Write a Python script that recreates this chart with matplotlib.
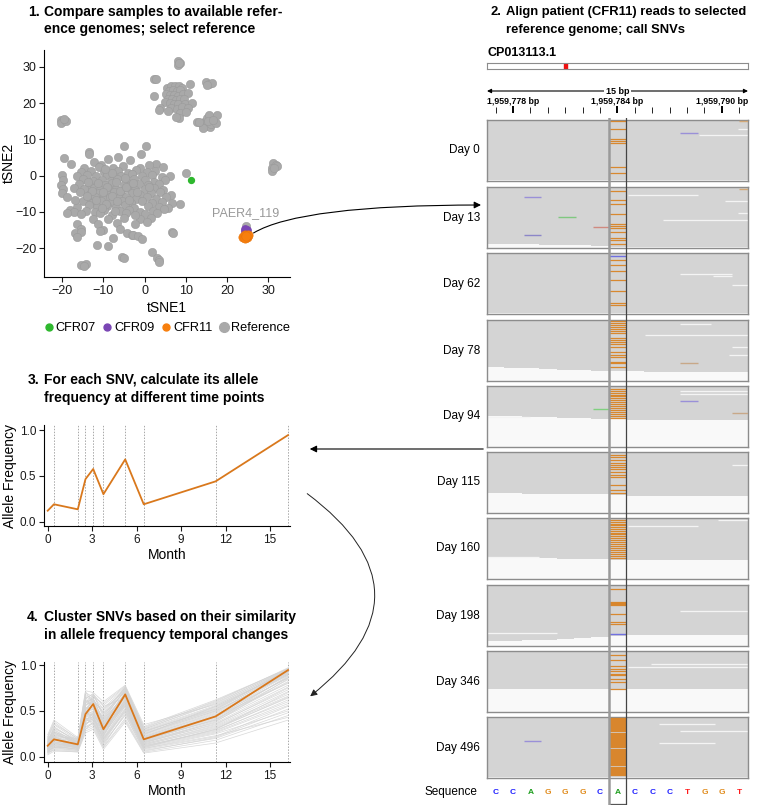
import matplotlib
matplotlib.use('Agg')
import matplotlib.pyplot as plt
from matplotlib.patches import FancyArrowPatch, ConnectionPatch
from matplotlib.lines import Line2D

plt.rcParams['font.family'] = ['Liberation Sans', 'DejaVu Sans']

W, H = 760, 806

# ---------------- panel 1: tSNE of genomes ----------------
ref_points = [
    # northern clusters
    (8.2, 31.6), (8.6, 31.0), (8.0, 30.4), (8.4, 30.9),
    (2.3, 26.6), (2.9, 26.7),
    (15.0, 25.9), (15.6, 25.3), (16.4, 25.4), (15.2, 25.0),
    (5.5, 24.2), (6.5, 24.6), (7.3, 24.8), (8.3, 24.6), (9.1, 24.0), (11.0, 25.2),
    (6.0, 23.3), (7.0, 23.6), (7.8, 23.2), (8.6, 23.5), (5.2, 22.5), (6.2, 22.2),
    (7.2, 22.3), (8.1, 22.0), (9.3, 22.4), (10.6, 22.8), (5.7, 21.2), (6.7, 21.0),
    (7.6, 20.8), (8.6, 21.2), (9.6, 21.0), (4.9, 20.3), (6.1, 19.9), (7.1, 19.6),
    (8.2, 19.8), (9.8, 19.7), (11.4, 20.0), (6.5, 18.6), (7.8, 18.4), (9.2, 18.8),
    (10.5, 18.6), (5.6, 17.8), (8.5, 17.3), (10.0, 17.4), (3.8, 18.6), (3.4, 18.2),
    (2.3, 21.8), (8.3, 15.9), (7.6, 16.2),
    (12.7, 14.7), (13.6, 14.4), (14.5, 14.9), (15.2, 15.8), (16.0, 16.1), (15.6, 16.6),
    (17.6, 16.7), (14.8, 13.8), (15.8, 13.4), (16.2, 14.2), (17.4, 14.5), (14.2, 13.2),
    (15.5, 15.0), (16.7, 15.2), (13.1, 14.9),
    (-20.3, 15.3), (-19.7, 15.0), (-20.2, 14.6), (-19.0, 15.1), (-19.6, 15.5),
    (31.2, 3.4), (31.8, 3.0), (32.1, 2.6), (30.9, 2.0), (31.0, 1.4), (31.5, 2.2),
    (10.0, 0.6), (24.6, -13.9),
    # main cluster
    (-12.2, 3.7), (-8.8, 4.5), (-3.5, 4.3), (2.8, 3.1), (-10.5, 3.0), (-6.4, 5.2),
    (-4.9, 8.2), (0.4, 8.3), (-0.9, 5.9), (-13.4, 6.6), (-13.4, 5.9), (-19.6, 4.9),
    (-17.8, 3.3), (-14.6, 2.1), (-11.0, 2.5), (-7.6, 2.0), (-5.2, 2.6), (-1.0, 2.2),
    (1.2, 2.8), (4.5, 2.5), (-15.4, 1.1), (-13.0, 1.4), (-9.8, 0.9), (-6.4, 1.3),
    (-4.0, 0.8), (-2.0, 1.5), (0.5, 1.0), (2.5, 1.2), (-20.0, 0.1), (-16.5, -0.2),
    (-14.0, 0.3), (-11.8, -0.1), (-9.0, 0.2), (-7.2, -0.3), (-5.6, 0.0), (-3.0, 0.4),
    (-0.6, -0.2), (1.8, 0.1), (4.3, -0.4), (6.1, -0.1), (-19.8, -1.3), (-15.0, -1.0),
    (-12.6, -1.5), (-10.4, -1.1), (-8.2, -1.4), (-6.6, -0.9), (-4.4, -1.6), (-2.5, -1.0),
    (0.0, -1.3), (2.2, -1.7), (5.0, -1.2), (-20.2, -2.5), (-16.0, -2.2), (-13.6, -2.7),
    (-11.4, -2.3), (-9.6, -2.6), (-7.8, -2.1), (-5.0, -2.5), (-3.6, -2.9), (-1.4, -2.3),
    (0.9, -2.6), (3.4, -2.2), (-19.7, -3.7), (-17.0, -3.4), (-14.8, -3.8), (-12.2, -3.5),
    (-10.8, -3.9), (-8.8, -3.4), (-6.9, -3.8), (-4.2, -3.5), (-2.2, -3.9), (0.2, -3.6),
    (2.4, -3.3), (4.6, -4.0), (-20.1, -4.9), (-15.6, -4.6), (-13.2, -5.0), (-11.0, -4.7),
    (-9.2, -5.1), (-7.4, -4.6), (-5.6, -5.0), (-3.0, -4.7), (-1.0, -5.2), (1.5, -4.8),
    (3.8, -4.6), (6.4, -5.3), (-18.8, -5.8), (-14.0, -6.1), (-12.0, -5.9), (-10.2, -6.3),
    (-8.4, -5.8), (-6.2, -6.2), (-4.6, -5.9), (-2.0, -6.4), (0.6, -6.0), (2.8, -6.3),
    (5.2, -6.0), (-15.0, -7.1), (-12.8, -7.4), (-10.6, -7.0), (-8.0, -7.3), (-5.4, -7.1),
    (-3.4, -7.5), (-0.6, -7.0), (1.8, -7.4), (4.2, -7.2), (6.6, -7.6), (8.6, -7.8),
    (-16.5, -8.5), (-13.5, -8.2), (-11.5, -8.7), (-9.0, -8.3), (-7.0, -8.6), (-4.8, -8.2),
    (-2.6, -8.8), (0.8, -8.4), (3.6, -8.6), (5.6, -8.9), (-18.0, -9.4), (-17.0, -9.9),
    (-14.2, -9.6), (-12.0, -9.9), (-9.8, -9.5), (-6.0, -9.8), (-3.8, -9.4), (-1.2, -9.9),
    (2.0, -9.6), (4.8, -9.3), (-18.8, -10.4), (-15.4, -10.6), (-10.8, -10.3), (-7.8, -10.8),
    (-4.5, -10.4), (0.2, -10.6), (3.0, -10.2), (-12.6, -11.8), (-8.8, -12.0), (-5.0, -11.6),
    (-1.0, -11.9), (1.6, -11.7), (-16.4, -13.2), (-11.2, -13.4), (-6.6, -13.0), (-2.2, -13.3),
    (0.5, -12.8), (-15.4, -14.8), (-10.0, -15.0), (-6.0, -14.6), (-4.2, -15.9), (-3.0, -16.2),
    (-16.9, -15.8), (-15.3, -15.4), (-10.8, -15.2), (-2.7, -16.3), (-1.5, -16.6), (6.6, -15.4),
    (-16.5, -16.9), (-7.7, -17.2), (-0.7, -17.5), (6.9, -15.7), (-11.6, -19.1), (-8.8, -19.3),
    (1.8, -20.9), (-5.5, -22.5), (-5.1, -22.7), (3.0, -22.7), (3.6, -23.2), (3.5, -23.8),
    (-15.3, -24.6), (-14.2, -24.3), (-14.6, -25.0),
    (-11.2, -2.0), (-9.0, -3.0), (-7.0, -1.8), (-6.0, -4.2), (-8.0, -5.5), (-10.0, -4.4),
    (-12.8, -4.2), (-4.6, -3.0), (-3.8, -6.8), (-9.4, -7.9), (-11.8, -6.8), (-6.8, -6.9),
    (-13.8, -1.8), (-2.8, -2.1), (-7.9, 0.8), (-9.6, 1.8), (-4.8, -0.6), (-1.8, -4.4),
    (-13.9, -5.6), (-7.2, -9.6), (-2.4, -10.8), (1.0, -3.0), (-16.8, -6.6), (-10.4, -8.8),
]
cfr07_points = [(11.2, -1.1)]
cfr09_points = [(24.4, -14.6), (24.8, -15.0), (24.6, -15.5), (24.3, -15.2)]
cfr11_points = [(23.9, -16.9), (24.3, -16.4), (24.8, -16.8), (25.0, -16.3), (24.4, -17.2), (24.6, -16.6)]
tsne_ticks_x = [-20, -10, 0, 10, 20, 30]
tsne_ticks_y = [-20, -10, 0, 10, 20, 30]

# ---------------- panels 3/4: allele frequency ----------------
months = [0, 0.42, 2.03, 2.55, 3.07, 3.76, 5.23, 6.48, 11.33, 16.22]
snv_freq = [0.12, 0.19, 0.135, 0.465, 0.575, 0.30, 0.68, 0.19, 0.44, 0.945]
cluster_freqs = [
    [0.10, 0.22, 0.12, 0.52, 0.60, 0.35, 0.70, 0.22, 0.48, 0.92],
    [0.08, 0.15, 0.10, 0.40, 0.48, 0.28, 0.62, 0.15, 0.38, 0.85],
    [0.15, 0.25, 0.16, 0.60, 0.55, 0.40, 0.74, 0.28, 0.52, 0.95],
    [0.05, 0.12, 0.08, 0.35, 0.42, 0.20, 0.55, 0.10, 0.30, 0.70],
    [0.18, 0.30, 0.14, 0.68, 0.62, 0.48, 0.75, 0.30, 0.58, 0.96],
    [0.12, 0.18, 0.15, 0.45, 0.50, 0.25, 0.60, 0.18, 0.40, 0.88],
    [0.06, 0.10, 0.11, 0.30, 0.38, 0.15, 0.45, 0.08, 0.22, 0.55],
    [0.20, 0.35, 0.18, 0.55, 0.66, 0.52, 0.72, 0.25, 0.50, 0.90],
    [0.09, 0.20, 0.09, 0.48, 0.45, 0.32, 0.66, 0.20, 0.44, 0.80],
    [0.14, 0.16, 0.13, 0.42, 0.58, 0.22, 0.68, 0.16, 0.35, 0.75],
    [0.03, 0.08, 0.06, 0.28, 0.32, 0.10, 0.40, 0.05, 0.18, 0.45],
    [0.11, 0.24, 0.17, 0.58, 0.64, 0.38, 0.70, 0.24, 0.55, 0.93],
    [0.07, 0.14, 0.12, 0.38, 0.44, 0.18, 0.52, 0.12, 0.28, 0.62],
    [0.16, 0.28, 0.12, 0.65, 0.52, 0.44, 0.76, 0.32, 0.60, 0.97],
    [0.10, 0.12, 0.10, 0.50, 0.40, 0.30, 0.58, 0.14, 0.33, 0.68],
    [0.13, 0.32, 0.16, 0.46, 0.68, 0.55, 0.64, 0.21, 0.46, 0.86],
    [0.04, 0.09, 0.07, 0.32, 0.36, 0.12, 0.48, 0.09, 0.25, 0.50],
    [0.19, 0.22, 0.20, 0.62, 0.56, 0.42, 0.73, 0.27, 0.53, 0.94],
    [0.08, 0.18, 0.09, 0.44, 0.47, 0.26, 0.63, 0.17, 0.41, 0.82],
    [0.12, 0.26, 0.14, 0.56, 0.61, 0.36, 0.69, 0.23, 0.49, 0.91],
    [0.06, 0.11, 0.08, 0.36, 0.40, 0.16, 0.50, 0.11, 0.27, 0.58],
    [0.22, 0.38, 0.19, 0.70, 0.65, 0.58, 0.77, 0.33, 0.62, 0.96],
    [0.09, 0.13, 0.11, 0.41, 0.43, 0.21, 0.56, 0.13, 0.31, 0.64],
    [0.15, 0.20, 0.13, 0.54, 0.53, 0.34, 0.67, 0.19, 0.43, 0.87],
    [0.05, 0.07, 0.05, 0.26, 0.30, 0.08, 0.38, 0.04, 0.15, 0.40],
    [0.17, 0.29, 0.15, 0.60, 0.63, 0.46, 0.71, 0.26, 0.51, 0.93],
    [0.10, 0.17, 0.10, 0.47, 0.49, 0.29, 0.61, 0.16, 0.39, 0.78],
    [0.13, 0.21, 0.16, 0.51, 0.57, 0.33, 0.65, 0.20, 0.45, 0.89],
    [0.07, 0.10, 0.09, 0.33, 0.37, 0.14, 0.46, 0.07, 0.20, 0.48],
    [0.14, 0.23, 0.12, 0.57, 0.59, 0.37, 0.68, 0.22, 0.47, 0.90],
    [0.11, 0.19, 0.14, 0.49, 0.54, 0.31, 0.64, 0.18, 0.42, 0.84],
    [0.02, 0.06, 0.06, 0.30, 0.34, 0.11, 0.42, 0.06, 0.21, 0.52],
    [0.20, 0.27, 0.17, 0.66, 0.60, 0.50, 0.74, 0.29, 0.56, 0.95],
    [0.09, 0.15, 0.12, 0.43, 0.46, 0.23, 0.59, 0.15, 0.36, 0.73],
    [0.12, 0.22, 0.11, 0.53, 0.51, 0.35, 0.66, 0.21, 0.44, 0.86],
    [0.06, 0.13, 0.10, 0.39, 0.41, 0.19, 0.53, 0.12, 0.29, 0.60],
    [0.16, 0.31, 0.18, 0.59, 0.67, 0.47, 0.71, 0.27, 0.54, 0.92],
    [0.10, 0.16, 0.13, 0.45, 0.48, 0.27, 0.60, 0.17, 0.37, 0.76],
    [0.24, 0.40, 0.21, 0.72, 0.70, 0.60, 0.78, 0.35, 0.57, 0.94],
    [0.08, 0.12, 0.08, 0.37, 0.39, 0.17, 0.51, 0.10, 0.26, 0.56],
    [0.13, 0.26, 0.15, 0.63, 0.69, 0.43, 0.72, 0.25, 0.52, 0.91],
    [0.07, 0.21, 0.10, 0.43, 0.35, 0.24, 0.57, 0.14, 0.34, 0.71],
    [0.17, 0.33, 0.16, 0.49, 0.62, 0.41, 0.67, 0.30, 0.59, 0.95],
    [0.11, 0.14, 0.12, 0.34, 0.45, 0.20, 0.49, 0.09, 0.23, 0.43],
    [0.14, 0.27, 0.18, 0.71, 0.58, 0.53, 0.75, 0.31, 0.61, 0.96],
    [0.05, 0.10, 0.07, 0.41, 0.44, 0.24, 0.58, 0.13, 0.32, 0.66],
    [0.19, 0.24, 0.14, 0.52, 0.63, 0.39, 0.69, 0.24, 0.50, 0.89],
    [0.09, 0.19, 0.11, 0.47, 0.52, 0.28, 0.62, 0.19, 0.40, 0.81],
    [0.12, 0.15, 0.09, 0.39, 0.47, 0.33, 0.55, 0.11, 0.30, 0.65],
    [0.21, 0.36, 0.20, 0.64, 0.68, 0.56, 0.76, 0.28, 0.55, 0.93],
]
month_ticks = [0, 3, 6, 9, 12, 15]
freq_ticks = [0.0, 0.5, 1.0]

# ---------------- panel 2: read pileups ----------------
chrom_name = 'CP013113.1'
chrom_len = 6_500_000
snv_pos = 1_959_784
bp_positions = list(range(1_959_777, 1_959_792))
ref_sequence = ['C', 'C', 'A', 'G', 'G', 'G', 'C', 'A', 'C', 'C', 'C', 'T', 'G', 'G', 'T']
ruler_labels = [1_959_778, 1_959_784, 1_959_790]
days = [0, 13, 62, 78, 94, 115, 160, 198, 346, 496]
# read depth (rows) at each of the 15 positions, per day
coverage = [
    [60] * 15,
    [57, 57, 57, 58, 58, 58, 59, 60, 60, 60, 60, 60, 60, 60, 60],
    [60] * 15,
    [47, 48, 48, 49, 50, 50, 51, 51, 51, 52, 52, 52, 52, 52, 52],
    [30, 30, 31, 31, 32, 32, 33, 33, 34, 34, 34, 34, 34, 34, 34],
    [41, 41, 42, 42, 42, 42, 42, 43, 44, 44, 44, 44, 44, 44, 44],
    [40, 40, 40, 40, 41, 41, 41, 42, 42, 42, 42, 42, 42, 42, 42],
    [56, 56, 55, 55, 54, 53, 52, 51, 50, 50, 50, 50, 50, 50, 50],
    [38] * 15,
    [60] * 15,
]
# rows carrying the alternate allele at the SNV
alt_rows = [
    [1, 9, 19, 21, 23, 47, 53],
    [4, 13, 17, 27, 37, 39, 41, 45, 51, 53, 57],
    [7, 12, 18, 27, 38, 50, 52],
    [1, 3, 5, 7, 9, 11, 13, 18, 20, 22, 24, 27, 32, 35, 37, 42, 43, 47],
    [3, 5, 7, 9, 10, 12, 14, 16, 18, 20, 22, 24, 26, 28, 30, 32],
    [3, 5, 8, 11, 13, 15, 17, 20, 23, 25, 33, 38, 41],
    [2, 4, 6, 7, 9, 11, 13, 15, 16, 18, 20, 22, 24, 26, 28, 30, 32, 34, 36, 38, 40],
    [4, 17, 18, 19, 20, 29, 37, 39],
    [4, 9, 15, 18, 20, 23, 24, 28, 31, 38],
    [1, 2, 3, 4, 5, 6, 7, 8, 9, 10, 11, 12, 13, 14, 16, 17, 18, 19, 20, 21, 22, 23, 24,
     25, 26, 27, 28, 29, 30, 32, 33, 34, 35, 36, 37, 38, 39, 40, 41, 42, 43, 44, 45, 46,
     47, 48, 50, 51, 52, 53, 54, 55, 56, 57, 58],
]
# other mismatches: (track, row, start, end, colour)
mismatches = [
    (0, 13, 1_959_787.6, 1_959_788.6, '#9a90d8'),
    (0, 1, 1_959_791.0, 1_959_791.5, '#d2a878'),
    (1, 10, 1_959_778.6, 1_959_779.6, '#9a90d8'),
    (1, 48, 1_959_778.6, 1_959_779.6, '#8c86c8'),
    (1, 30, 1_959_780.6, 1_959_781.6, '#80c880'),
    (1, 40, 1_959_782.6, 1_959_783.5, '#d08a80'),
    (1, 2, 1_959_791.0, 1_959_791.5, '#d2a878'),
    (2, 3, 1_959_783.5, 1_959_784.5, '#7070e0'),
    (3, 43, 1_959_787.6, 1_959_788.6, '#c8a888'),
    (4, 23, 1_959_782.6, 1_959_783.5, '#80d080'),
    (4, 15, 1_959_787.6, 1_959_788.6, '#9a90d8'),
    (4, 27, 1_959_790.6, 1_959_791.5, '#c8a888'),
    (7, 49, 1_959_783.5, 1_959_784.5, '#7070e0'),
    (9, 24, 1_959_778.6, 1_959_779.6, '#9a90d8'),
]
# read ends that leave thin white streaks: (track, row, start, end)
read_gaps = [
    (0, 15, 1_959_788.7, 1_959_791.5), (0, 9, 1_959_790.9, 1_959_791.5),
    (1, 8, 1_959_784.6, 1_959_788.6), (1, 14, 1_959_790.2, 1_959_791.5),
    (1, 33, 1_959_786.6, 1_959_791.5), (1, 26, 1_959_790.9, 1_959_791.5),
    (2, 21, 1_959_787.6, 1_959_790.6), (2, 23, 1_959_789.5, 1_959_790.6),
    (2, 32, 1_959_790.6, 1_959_791.5),
    (3, 4, 1_959_787.6, 1_959_789.4), (3, 15, 1_959_785.6, 1_959_791.5),
    (3, 27, 1_959_790.6, 1_959_791.5), (3, 35, 1_959_790.4, 1_959_791.5),
    (4, 5, 1_959_787.6, 1_959_791.5), (4, 8, 1_959_787.6, 1_959_791.5),
    (4, 31, 1_959_776.5, 1_959_779.0),
    (5, 13, 1_959_790.6, 1_959_791.5),
    (6, 8, 1_959_784.6, 1_959_788.6), (6, 2, 1_959_789.8, 1_959_791.5),
    (6, 39, 1_959_776.5, 1_959_779.5),
    (7, 26, 1_959_787.6, 1_959_791.5), (7, 48, 1_959_776.5, 1_959_780.5),
    (8, 13, 1_959_785.9, 1_959_791.5), (8, 16, 1_959_784.6, 1_959_791.5),
    (9, 7, 1_959_786.4, 1_959_789.6), (9, 14, 1_959_787.6, 1_959_791.5),
    (9, 26, 1_959_786.4, 1_959_789.6),
]
base_colors = {'A': '#1e9e1e', 'C': '#1f1fff', 'G': '#e08a1a', 'T': '#ff1a1a'}
track_tops = [120, 187, 253, 320, 386, 452, 518, 585, 651, 717]

fig = plt.figure(figsize=(W / 100, H / 100), dpi=100)


def px_axes(left, top, right, bottom):
    return fig.add_axes([left / W, 1 - bottom / H, (right - left) / W, (bottom - top) / H])


def fx(px):
    return px / W


def fy(py):
    return 1 - py / H


def title(num_x, body_x, y1, lines, size=10):
    fig.text(fx(num_x), fy(y1), lines[0][:2], fontsize=size, fontweight='bold', va='center')
    fig.text(fx(body_x), fy(y1), lines[0][3:], fontsize=size, fontweight='bold', va='center')
    fig.text(fx(body_x), fy(y1 + 17.5), lines[1], fontsize=size, fontweight='bold', va='center')


def classic(ax, size=8):
    for side in ['top', 'right']:
        ax.spines[side].set_visible(False)
    for side in ['left', 'bottom']:
        ax.spines[side].set_linewidth(0.8)
    ax.tick_params(labelsize=size, length=3.5, width=0.8, pad=2, colors='#1a1a1a')


title(28, 44, 12, ['1. Compare samples to available refer-', 'ence genomes; select reference'])
title(491, 506, 12, ['2. Align patient (CFR11) reads to selected', 'reference genome; call SNVs'], 9.4)
title(28, 44, 380, ['3. For each SNV, calculate its allele', 'frequency at different time points'])
title(27, 44, 617, ['4. Cluster SNVs based on their similarity', 'in allele frequency temporal changes'])

# panel 1
ax1 = px_axes(44, 50, 290, 277)
ax1.scatter([p[0] for p in ref_points], [p[1] for p in ref_points], s=36,
            c='#a9a9a9', edgecolors='#9b9b9b', linewidths=0.4, zorder=2)
ax1.scatter([p[0] for p in cfr07_points], [p[1] for p in cfr07_points], s=18, c='#2eb82e', zorder=3)
ax1.scatter([p[0] for p in cfr09_points], [p[1] for p in cfr09_points], s=28, c='#7a46b4', zorder=3)
ax1.scatter([p[0] for p in cfr11_points], [p[1] for p in cfr11_points], s=45, c='#f77f0e',
            edgecolors='#e8740a', linewidths=0.4, zorder=4)
ax1.text(24.5, -10.4, 'PAER4_119', color='#999999', fontsize=9, ha='center', va='center')
ax1.set_xlim(-24.4, 35.3)
ax1.set_ylim(-27.9, 34.6)
ax1.set_xticks(tsne_ticks_x)
ax1.set_yticks(tsne_ticks_y)
classic(ax1, 9)
ax1.set_xlabel('tSNE1', fontsize=10, labelpad=3)
fig.text(fx(9), fy(163), 'tSNE2', fontsize=10, rotation=90, ha='center', va='center')

handles = [Line2D([], [], ls='', marker='o', ms=5, color='#2eb82e'),
           Line2D([], [], ls='', marker='o', ms=5, color='#7a46b4'),
           Line2D([], [], ls='', marker='o', ms=5, color='#f77f0e'),
           Line2D([], [], ls='', marker='o', ms=7, color='#a9a9a9')]
fig.legend(handles, ['CFR07', 'CFR09', 'CFR11', 'Reference'], ncol=4, frameon=False,
           loc='center', bbox_to_anchor=(fx(167), fy(328)), fontsize=9.2,
           handletextpad=0.2, columnspacing=0.55, handlelength=0.7, borderpad=0.2)


# panels 3 and 4
def freq_panel(ax, with_cluster):
    for m in months[1:]:
        ax.axvline(m, color='#a8a8a8', lw=0.7, ls=(0, (1.5, 1.5)), zorder=1)
    if with_cluster:
        for row in cluster_freqs:
            ax.plot(months, row, color='#d4d4d4', lw=0.5, alpha=0.9, zorder=2)
    ax.plot(months, snv_freq, color='#d9781c', lw=1.3, zorder=3)
    ax.set_xlim(-0.25, 16.35)
    ax.set_xticks(month_ticks)
    ax.set_yticks(freq_ticks)
    ax.set_yticklabels(['0.0', '0.5', '1.0'])
    classic(ax, 8.5)
    ax.set_xlabel('Month', fontsize=10, labelpad=2)
    ax.set_ylabel('Allele Frequency', fontsize=10, labelpad=2)


ax3 = px_axes(44, 425, 290, 526)
freq_panel(ax3, False)
ax3.set_ylim(-0.047, 1.055)
ax4 = px_axes(44, 662, 290, 762)
freq_panel(ax4, True)
ax4.set_ylim(-0.057, 1.033)

# panel 2 header
bp_lo, bp_hi = bp_positions[0] - 0.5, bp_positions[-1] + 0.5
fig.text(fx(487), fy(53), chrom_name, fontsize=9, fontweight='bold', va='center')
ax_chr = px_axes(487, 63, 748, 69)
ax_chr.set_xlim(0, chrom_len)
ax_chr.axvspan(snv_pos - 35000, snv_pos + 35000, color='#ee1111')
ax_chr.set_xticks([])
ax_chr.set_yticks([])
for s in ax_chr.spines.values():
    s.set_color('#8c8c8c')
    s.set_linewidth(0.8)

ax_r = px_axes(487, 84, 748, 116)
ax_r.set_xlim(bp_lo, bp_hi)
ax_r.set_ylim(32, 0)
ax_r.axis('off')
ax_r.annotate('', xy=(bp_lo, 7), xytext=(bp_hi, 7),
              arrowprops=dict(arrowstyle='<|-|>', lw=0.8, color='black', mutation_scale=6,
                              shrinkA=0, shrinkB=0))
ax_r.text(snv_pos, 7, f'{len(bp_positions)} bp', fontsize=6.5, fontweight='bold', ha='center',
          va='center', bbox=dict(facecolor='white', edgecolor='none', pad=1.5))
for p in bp_positions:
    major = p in ruler_labels
    ax_r.vlines(p, 21.5 if major else 23, 29, color='black', lw=1.4 if major else 0.6)
for p in ruler_labels:
    ax_r.text(p, 17, f'{p:,} bp', fontsize=6.3, fontweight='bold', ha='center', va='center')

# read tracks
for i, day in enumerate(days):
    ax = px_axes(487, track_tops[i], 748, track_tops[i] + 61)
    ax.set_facecolor('#f9f9f9')
    ax.bar(bp_positions, coverage[i], width=1.0, color='#d4d4d4', align='center', zorder=1)
    for (t, row, a, b) in read_gaps:
        if t == i:
            ax.hlines(row, a, b, color='#f4f4f4', lw=0.9, zorder=2)
    ax.hlines(alt_rows[i], snv_pos - 0.5, snv_pos + 0.5, color='#d98426', lw=0.9, alpha=0.95, zorder=3)
    for (t, row, a, b, c) in mismatches:
        if t == i:
            ax.hlines(row, a, b, color=c, lw=1.0, zorder=3)
    ax.set_xlim(bp_lo, bp_hi)
    ax.set_ylim(61, 0)
    ax.set_xticks([])
    ax.set_yticks([])
    for s in ax.spines.values():
        s.set_color('#8c8c8c')
        s.set_linewidth(1.0)
    ax.text(-0.027, 0.5, f'Day {day}', transform=ax.transAxes, ha='right', va='center', fontsize=8.5)

# reference sequence row
ax_seq = px_axes(487, 779, 748, 805)
ax_seq.set_xlim(bp_lo, bp_hi)
ax_seq.set_ylim(0, 1)
ax_seq.axis('off')
for p, b in zip(bp_positions, ref_sequence):
    ax_seq.text(p, 0.5, b, color=base_colors[b], fontsize=6, fontweight='bold', ha='center', va='center')
ax_seq.hlines(0.02, snv_pos - 0.5, snv_pos + 0.5, color='#555555', lw=0.9)
ax_seq.text(-0.035, 0.5, 'Sequence', transform=ax_seq.transAxes, ha='right', va='center', fontsize=8.5)

# SNV column outline across all tracks
ax_col = px_axes(487, 118, 748, 805)
ax_col.set_xlim(bp_lo, bp_hi)
ax_col.set_ylim(0, 1)
ax_col.axis('off')
ax_col.axvline(snv_pos - 0.5, color='#9a9a9a', lw=1.8)
ax_col.axvline(snv_pos + 0.5, color='#444444', lw=0.9)

# connecting arrows
fig.add_artist(ConnectionPatch(xyA=(25.6, -16.4), coordsA=ax1.transData,
                               xyB=(fx(481), fy(205)), coordsB=fig.transFigure,
                               arrowstyle='-|>', mutation_scale=10, lw=0.8, color='black',
                               connectionstyle='angle3,angleA=35,angleB=0', shrinkA=3, shrinkB=0))
fig.add_artist(FancyArrowPatch((fx(486), fy(449)), (fx(307), fy(449)), transform=fig.transFigure,
                               arrowstyle='-|>', mutation_scale=10, lw=0.8, color='black'))
fig.add_artist(FancyArrowPatch((fx(305), fy(492)), (fx(308), fy(698)), transform=fig.transFigure,
                               arrowstyle='-|>', mutation_scale=10, lw=0.7, color='#222222',
                               connectionstyle='arc3,rad=-0.66'))

fig.savefig('out.png', dpi=100)
